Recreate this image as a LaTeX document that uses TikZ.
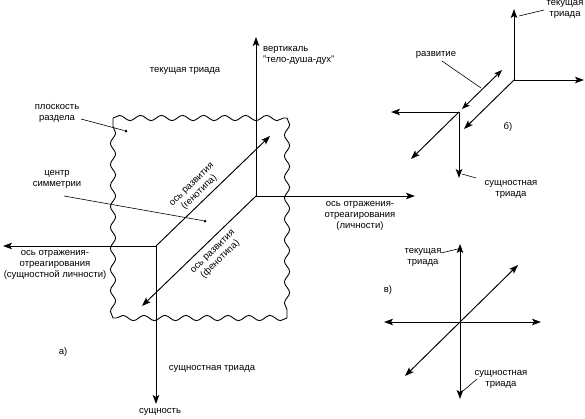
\documentclass[tikz,border=0pt]{standalone}
\usepackage{fontspec}
\setmainfont{Liberation Sans}
\usetikzlibrary{arrows.meta,decorations.pathmorphing}
\begin{document}
\begin{tikzpicture}[x=1pt,y=-1pt,
  ax/.style={-{Stealth[length=9pt,width=6.5pt,inset=2pt]}, line width=0.95pt},
  axx/.style={{Stealth[length=8pt,width=6pt,inset=2pt]}-{Stealth[length=8pt,width=6pt,inset=2pt]}, line width=0.95pt},
  leader/.style={line width=0.6pt},
  wavy/.style={line width=0.9pt, decorate, decoration={snake, segment length=21pt, amplitude=2.6pt}},
  lbl/.style={font=\fontsize{9.5}{11}\selectfont, inner sep=0pt, align=center},
  dotn/.style={circle, fill, inner sep=0pt, minimum size=3pt}]
\useasboundingbox (0,0) rectangle (585,418);
% ---------- figure a ----------
\coordinate (pTL) at (113,118);
\coordinate (pTR) at (287,118);
\coordinate (pBR) at (287,318);
\coordinate (pBL) at (113,318);
\draw[wavy] (pTL) -- (pTR);
\draw[wavy] (pTR) -- (pBR);
\draw[wavy] (pBR) -- (pBL);
\draw[wavy] (pBL) -- (pTL);
\coordinate (up) at (256,196);
\coordinate (lo) at (156,246);
\coordinate (upTip) at (256,37);
\coordinate (rTip) at (415,196);
\coordinate (lTip) at (3,246);
\coordinate (dTip) at (156,404);
\coordinate (gTip) at (270,136);
\coordinate (fTip) at (142,306);
\draw[ax] (up) -- (upTip);
\draw[ax] (up) -- (rTip);
\draw[ax] (lo) -- (lTip);
\draw[ax] (lo) -- (dTip);
\draw[ax] (lo) -- (gTip);
\draw[ax] (up) -- (fTip);
\node[dotn] (d1) at (126,131) {};
\node[dotn] (d2) at (205,221) {};
\node[lbl, align=left, anchor=west] (vert) at (263,55) {вертикаль\\"тело-душа-дух"};
\node[lbl] (tek) at (185,71) {текущая триада};
\node[lbl] (plos) at (57,113) {плоскость\\раздела};
\coordinate (plosE) at (81,119);
\draw[leader] (plosE) -- (d1);
\node[lbl] (cent) at (57,179.5) {центр\\симметрии};
\coordinate (centE) at (64,196);
\draw[leader] (centE) -- (d2);
\node[lbl, rotate=44] (gen) at (196,189) {ось развития\\(генотипа)};
\node[lbl, rotate=44] (fen) at (217,256) {ось развития\\(фенотипа)};
\node[lbl] (otrR) at (360,216) {ось отражения-\\отреагирования\\(личности)};
\node[lbl] (otrL) at (55,264.5) {ось отражения-\\отреагирования\\(сущностной личности)};
\node[lbl] (la) at (63,352) {а)};
\node[lbl] (sushtr) at (212,369) {сущностная триада};
\node[lbl] (sush) at (160,412) {сущность};
% ---------- figure b ----------
\coordinate (bU) at (514,80);
\coordinate (bL) at (459,112);
\coordinate (bUtip) at (514,9);
\coordinate (bRtip) at (584,80);
\coordinate (bDLtip) at (464,129);
\coordinate (bLtip) at (391,112);
\coordinate (bDtip) at (459,178);
\coordinate (bLDLtip) at (411,159);
\coordinate (rA) at (462,109);
\coordinate (rB) at (502,70);
\draw[ax] (bU) -- (bUtip);
\draw[ax] (bU) -- (bRtip);
\draw[ax] (bU) -- (bDLtip);
\draw[ax] (bL) -- (bLtip);
\draw[ax] (bL) -- (bDtip);
\draw[ax] (bL) -- (bLDLtip);
\draw[axx] (rA) -- (rB);
\node[lbl] (razv) at (436,55) {развитие};
\coordinate (razvE) at (442,61);
\coordinate (razvP) at (481,88);
\draw[leader] (razvE) -- (razvP);
\node[lbl] (btek) at (565,9.5) {текущая\\триада};
\coordinate (btekA) at (519,16);
\coordinate (btekB) at (544,10);
\draw[leader] (btekA) -- (btekB);
\node[lbl] (bsush) at (511,189.5) {сущностная\\триада};
\coordinate (bsushA) at (462,174);
\coordinate (bsushB) at (476,178);
\draw[leader] (bsushA) -- (bsushB);
\node[lbl] (lb) at (508,127) {б)};
% ---------- figure c ----------
\coordinate (cC) at (460,322);
\coordinate (cUtip) at (460,244);
\coordinate (cDtip) at (460,399);
\coordinate (cLtip) at (384,322);
\coordinate (cRtip) at (541,322);
\coordinate (cURtip) at (518,265);
\coordinate (cDLtip) at (405,376);
\draw[ax] (cC) -- (cUtip);
\draw[ax] (cC) -- (cDtip);
\draw[ax] (cC) -- (cLtip);
\draw[ax] (cC) -- (cRtip);
\draw[ax] (cC) -- (cURtip);
\draw[ax] (cC) -- (cDLtip);
\node[lbl] (ctek) at (423,257.5) {текущая\\триада};
\coordinate (ctekA) at (441,253);
\coordinate (ctekB) at (462,248);
\draw[leader] (ctekA) -- (ctekB);
\node[lbl] (csush) at (501,379.5) {сущностная\\триада};
\coordinate (csushA) at (477,379);
\coordinate (csushB) at (463,391);
\draw[leader] (csushA) -- (csushB);
\node[lbl] (lc) at (388,290) {в)};
\end{tikzpicture}
\end{document}
